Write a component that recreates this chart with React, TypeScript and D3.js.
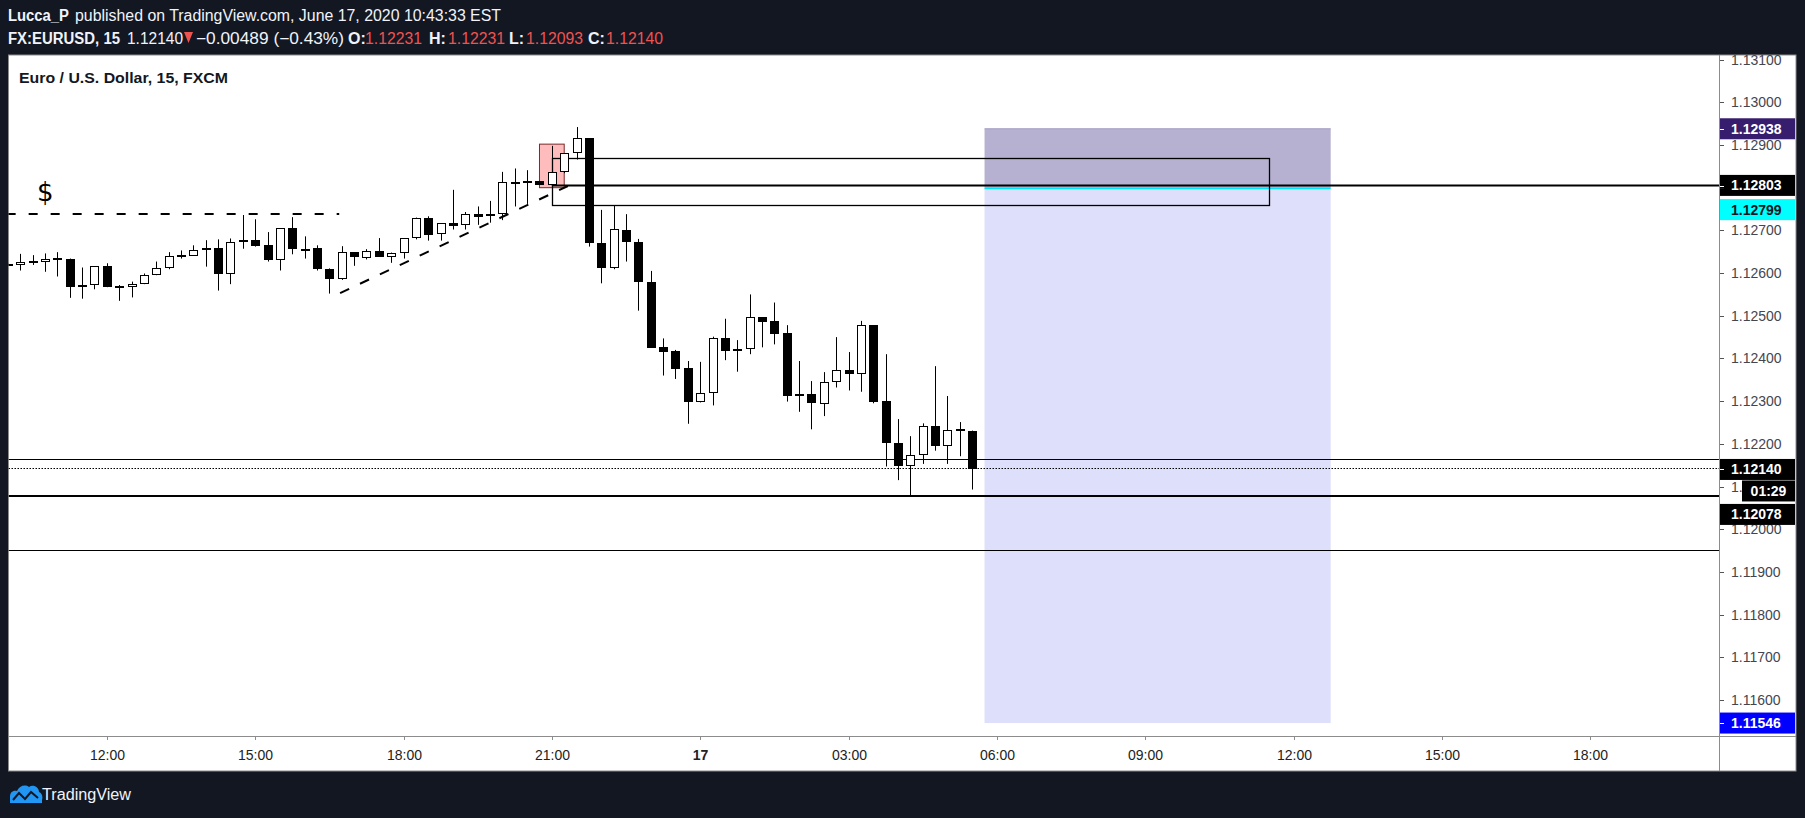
import React from 'react';
import * as d3 from 'd3';

// 15-minute EURUSD bars, bar index 0 = Jun 16 12:00
const firstBar = -8;
const opens = [
  1.12620, 1.12620, 1.12627, 1.12625, 1.12634, 1.12634, 1.12567, 1.12571, 1.12616, 1.12568,
  1.12567, 1.12574, 1.12595, 1.12613, 1.12642, 1.12641, 1.12653, 1.12658, 1.12597, 1.12672,
  1.12677, 1.12665, 1.12630, 1.12705, 1.12657, 1.12658, 1.12609, 1.12585, 1.12649, 1.12636,
  1.12651, 1.12638, 1.12648, 1.12681, 1.12728, 1.12691, 1.12717, 1.12712, 1.12738, 1.12733,
  1.12738, 1.12813, 1.12810, 1.12816, 1.12807, 1.12836, 1.12881, 1.12916, 1.12670, 1.12613,
  1.12702, 1.12673, 1.12579, 1.12427, 1.12418, 1.12378, 1.12297, 1.12318, 1.12448, 1.12422,
  1.12421, 1.12497, 1.12488, 1.12460, 1.12317, 1.12317, 1.12294, 1.12344, 1.12372, 1.12363,
  1.12478, 1.12300, 1.12203, 1.12149, 1.12175, 1.12241, 1.12196, 1.12235, 1.12231,
];
const highs = [
  1.12622, 1.12645, 1.12642, 1.12646, 1.12649, 1.12634, 1.12613, 1.12616, 1.12623, 1.12572,
  1.12580, 1.12599, 1.12627, 1.12649, 1.12653, 1.12665, 1.12677, 1.12679, 1.12681, 1.12736,
  1.12726, 1.12696, 1.12705, 1.12731, 1.12686, 1.12665, 1.12611, 1.12663, 1.12649, 1.12656,
  1.12682, 1.12648, 1.12681, 1.12730, 1.12733, 1.12717, 1.12795, 1.12743, 1.12756, 1.12769,
  1.12837, 1.12845, 1.12841, 1.12816, 1.12898, 1.12881, 1.12942, 1.12916, 1.12748, 1.12759,
  1.12738, 1.12680, 1.12605, 1.12447, 1.12420, 1.12394, 1.12392, 1.12451, 1.12493, 1.12443,
  1.12550, 1.12497, 1.12531, 1.12478, 1.12394, 1.12347, 1.12368, 1.12450, 1.12415, 1.12488,
  1.12478, 1.12410, 1.12258, 1.12218, 1.12248, 1.12382, 1.12312, 1.12251, 1.12231,
];
const lows = [
  1.12618, 1.12606, 1.12619, 1.12603, 1.12592, 1.12542, 1.12540, 1.12562, 1.12567, 1.12535,
  1.12543, 1.12574, 1.12595, 1.12609, 1.12634, 1.12641, 1.12615, 1.12559, 1.12574, 1.12657,
  1.12662, 1.12627, 1.12606, 1.12644, 1.12634, 1.12606, 1.12552, 1.12584, 1.12617, 1.12632,
  1.12638, 1.12624, 1.12634, 1.12679, 1.12676, 1.12676, 1.12702, 1.12702, 1.12713, 1.12718,
  1.12724, 1.12756, 1.12762, 1.12807, 1.12804, 1.12834, 1.12866, 1.12662, 1.12576, 1.12609,
  1.12627, 1.12512, 1.12425, 1.12360, 1.12352, 1.12247, 1.12297, 1.12290, 1.12396, 1.12369,
  1.12410, 1.12426, 1.12433, 1.12299, 1.12275, 1.12234, 1.12265, 1.12332, 1.12325, 1.12322,
  1.12295, 1.12147, 1.12115, 1.12076, 1.12153, 1.12184, 1.12153, 1.12171, 1.12093,
];
const closes = [
  1.12621, 1.12626, 1.12628, 1.12634, 1.12635, 1.12567, 1.12571, 1.12616, 1.12567, 1.12569,
  1.12574, 1.12595, 1.12613, 1.12639, 1.12638, 1.12653, 1.12659, 1.12597, 1.12672, 1.12677,
  1.12664, 1.12630, 1.12705, 1.12656, 1.12656, 1.12609, 1.12585, 1.12649, 1.12637, 1.12651,
  1.12638, 1.12648, 1.12681, 1.12728, 1.12690, 1.12717, 1.12711, 1.12738, 1.12732, 1.12738,
  1.12813, 1.12810, 1.12815, 1.12807, 1.12836, 1.12881, 1.12916, 1.12670, 1.12613, 1.12703,
  1.12672, 1.12578, 1.12425, 1.12416, 1.12376, 1.12297, 1.12318, 1.12448, 1.12418, 1.12418,
  1.12497, 1.12486, 1.12458, 1.12313, 1.12313, 1.12295, 1.12344, 1.12372, 1.12363, 1.12478,
  1.12299, 1.12203, 1.12149, 1.12175, 1.12241, 1.12196, 1.12232, 1.12232, 1.12140,
];

const timeLabels = ['12:00', '15:00', '18:00', '21:00', '17', '03:00', '06:00', '09:00', '12:00', '15:00', '18:00'];
const priceTicks = d3.range(0, 16).map(k => 1.116 + k * 0.001);

// drawings on the chart
const levelPrices = [1.12164, 1.12078, 1.11951];
const levelWidths = [1, 2, 1];
const lastPrice = 1.12140;
const rayPrice = 1.12803;
const rayStartBar = 36;
const zoneBars = [36, 94];
const zonePrices = [1.12869, 1.12759];
const pinkBars = [35, 37];
const pinkPrices = [1.12902, 1.12800];
const dollarLevel = 1.12738;
const dollarBars = [-8.1, 18.8];
const trendBars = [18.87, 37.3];
const trendPrices = [1.12553, 1.12804];
const positionBars = [71, 99];
const stopPrice = 1.12938;
const entryPrice = 1.12799;
const targetPrice = 1.11546;

const axisLabels = [
  { text: '1.12938', price: 1.12938, shift: 0, bg: '#371d6d', fg: '#ffffff' },
  { text: '1.12803', price: 1.12803, shift: -1, bg: '#000000', fg: '#ffffff' },
  { text: '1.12799', price: 1.12799, shift: 21.5, bg: '#00ffff', fg: '#131722' },
  { text: '1.12140', price: 1.12140, shift: 0, bg: '#000000', fg: '#ffffff' },
  { text: '1.12078', price: 1.12078, shift: 18.5, bg: '#000000', fg: '#ffffff' },
  { text: '1.11546', price: 1.11546, shift: 0, bg: '#0000ff', fg: '#ffffff' },
];

const FONT = '"Liberation Sans", Arial, sans-serif';

export default function App() {
  const W = 1805, H = 818;
  const left = 8.5, top = 55, right = 1719, bottom = 736, panelBottom = 771, panelRight = 1796;

  const x = d3.scaleLinear().domain([0, 120]).range([106.8, 1590.3]);
  const y = d3.scaleLinear().domain([1.116, 1.13]).range([700, 102.3]);

  const bars = opens.map((o, k) => ({ i: firstBar + k, o, h: highs[k], l: lows[k], c: closes[k] }));
  const px = (v: number) => Math.round(v) + 0.5;

  const red = '#ef5350';
  const hdr = '#f0f3fa';

  return (
    <svg width={W} height={H} style={{ display: 'block' }} fontFamily={FONT}>
      <style>{`body{margin:0;background:#131722}`}</style>
      <defs>
        <clipPath id="plot"><rect x={left} y={top} width={right - left} height={bottom - top} /></clipPath>
        <clipPath id="paxis"><rect x={right} y={top} width={panelRight - right} height={bottom - top} /></clipPath>
      </defs>
      <rect x={0} y={0} width={W} height={H} fill="#131722" />

      {/* header */}
      <text x={8} y={21} fontSize={16} fill={hdr} fontWeight="bold" textLength={61} lengthAdjust="spacingAndGlyphs">Lucca_P</text>
      <text x={75} y={21} fontSize={16} fill={hdr} textLength={426} lengthAdjust="spacingAndGlyphs">
        published on TradingView.com, June 17, 2020 10:43:33 EST
      </text>
      <text x={8} y={44} fontSize={16} fill={hdr} fontWeight="bold" textLength={112} lengthAdjust="spacingAndGlyphs">FX:EURUSD, 15</text>
      <text x={127} y={44} fontSize={16} fill={hdr} textLength={56} lengthAdjust="spacingAndGlyphs">1.12140</text>
      <path d="M184,32 L193,32 L188.5,43 Z" fill={red} />
      <text x={196} y={44} fontSize={16} fill={hdr} textLength={148} lengthAdjust="spacingAndGlyphs">−0.00489 (−0.43%)</text>
      {[
        ['O:', 348, '1.12231', 365],
        ['H:', 429, '1.12231', 448],
        ['L:', 509, '1.12093', 526],
        ['C:', 588, '1.12140', 606],
      ].map(([k, kx, v, vx]) => (
        <g key={k as string}>
          <text x={kx as number} y={44} fontSize={16} fontWeight="bold" fill={hdr}>{k}</text>
          <text x={vx as number} y={44} fontSize={16} fill={red} textLength={57} lengthAdjust="spacingAndGlyphs">{v}</text>
        </g>
      ))}

      {/* chart panel */}
      <rect x={left} y={top} width={panelRight - left} height={panelBottom - top} fill="#ffffff" stroke="#8c8c8c" strokeWidth={1} />

      <g clipPath="url(#plot)">
        {/* short position tool */}
        <rect x={x(positionBars[0])} y={y(stopPrice)} width={x(positionBars[1]) - x(positionBars[0])}
          height={y(entryPrice) - y(stopPrice)} fill="#b7b1d1" />
        <rect x={x(positionBars[0])} y={y(entryPrice)} width={x(positionBars[1]) - x(positionBars[0])}
          height={y(targetPrice) - y(entryPrice)} fill="#dedffa" />
        <line x1={x(positionBars[0])} x2={x(positionBars[1])} y1={y(stopPrice)} y2={y(stopPrice)} stroke="#a39cc4" />
        <line x1={x(positionBars[0])} x2={x(positionBars[1])} y1={y(entryPrice) + 0.5} y2={y(entryPrice) + 0.5} stroke="#00e5ff" strokeWidth={1.5} />

        {/* pink box */}
        <rect x={x(pinkBars[0])} y={y(pinkPrices[0])} width={x(pinkBars[1]) - x(pinkBars[0])}
          height={y(pinkPrices[1]) - y(pinkPrices[0])} fill="#ffbcbc" stroke="#7a2a2a" strokeWidth={1} />

        {/* supply zone rectangle */}
        <rect x={px(x(zoneBars[0]))} y={px(y(zonePrices[0]))} width={Math.round(x(zoneBars[1]) - x(zoneBars[0]))}
          height={Math.round(y(zonePrices[1]) - y(zonePrices[0]))} fill="none" stroke="#000" strokeWidth={1.3} />

        {/* horizontal ray */}
        <line x1={x(rayStartBar)} x2={right} y1={y(rayPrice) - 1} y2={y(rayPrice) - 1} stroke="#000" strokeWidth={2} />

        {/* levels */}
        {levelPrices.map((p, k) => (
          <line key={p} x1={left} x2={right} y1={levelWidths[k] === 1 ? px(y(p)) : Math.round(y(p))}
            y2={levelWidths[k] === 1 ? px(y(p)) : Math.round(y(p))} stroke="#000" strokeWidth={levelWidths[k]} />
        ))}
        <line x1={left} x2={right} y1={px(y(lastPrice)) - 1} y2={px(y(lastPrice)) - 1} stroke="#000" strokeDasharray="1.5,1.5" />

        {/* dashed lines */}
        <line x1={x(dollarBars[0])} x2={x(dollarBars[1])} y1={Math.round(y(dollarLevel))} y2={Math.round(y(dollarLevel))}
          stroke="#000" strokeWidth={2} strokeDasharray="9,13" />
        <line x1={x(trendBars[0])} y1={y(trendPrices[0])} x2={x(trendBars[1])} y2={y(trendPrices[1])}
          stroke="#000" strokeWidth={2} strokeDasharray="10,12" />
        <text x={37} y={201} fontSize={26} fontFamily='"DejaVu Sans", sans-serif' fill="#000">$</text>

        {/* candles */}
        {bars.map(b => {
          const cx = px(x(b.i));
          const up = b.c >= b.o;
          const t = Math.round(y(Math.max(b.o, b.c)));
          const bt = Math.round(y(Math.min(b.o, b.c)));
          const hgt = Math.max(bt - t, 1);
          return (
            <g key={b.i}>
              <line x1={cx} x2={cx} y1={y(b.h)} y2={y(b.l)} stroke="#000" strokeWidth={1} />
              {up
                ? <rect x={cx - 4} y={t + 0.5} width={8} height={Math.max(hgt - 1, 1)} fill="#fff" stroke="#000" strokeWidth={1} />
                : <rect x={cx - 4.5} y={t} width={9} height={Math.max(hgt, 2)} fill="#000" />}
            </g>
          );
        })}
      </g>

      {/* title */}
      <text x={19} y={83} fontSize={15} fontWeight="bold" fill="#131722" textLength={209} lengthAdjust="spacingAndGlyphs">
        Euro / U.S. Dollar, 15, FXCM
      </text>

      {/* price axis */}
      <g clipPath="url(#paxis)">
        {priceTicks.map(p => (
          <g key={p}>
            <line x1={right} x2={right + 5} y1={px(y(p))} y2={px(y(p))} stroke="#555" />
            <text x={1731} y={y(p) + 5} fontSize={14} fill="#434651">{p.toFixed(5)}</text>
          </g>
        ))}
        {axisLabels.map(l => {
          const cy = y(l.price) + l.shift;
          return (
            <g key={l.text}>
              <rect x={right} y={cy - 10.5} width={76} height={21} fill={l.bg} />
              <line x1={right} x2={right + 5} y1={px(y(l.price))} y2={px(y(l.price))} stroke={l.fg} />
              <text x={1731} y={cy + 5} fontSize={14} fontWeight="bold" fill={l.fg}>{l.text}</text>
            </g>
          );
        })}
        <rect x={1742} y={y(lastPrice) + 11} width={53} height={21} fill="#000" />
        <text x={1768.5} y={y(lastPrice) + 26.5} fontSize={14} fontWeight="bold" fill="#fff" textAnchor="middle">01:29</text>
      </g>
      <line x1={px(right)} x2={px(right)} y1={top} y2={panelBottom} stroke="#8c8c8c" />

      {/* time axis */}
      <line x1={left} x2={panelRight} y1={px(bottom)} y2={px(bottom)} stroke="#8c8c8c" />
      {timeLabels.map((t, k) => {
        const tx = px(x(k * 12));
        return (
          <g key={k}>
            <line x1={tx} x2={tx} y1={bottom} y2={bottom + 4} stroke="#8c8c8c" />
            <text x={tx} y={760} fontSize={14} textAnchor="middle" fill="#222"
              fontWeight={t === '17' ? 'bold' : 'normal'}>{t}</text>
          </g>
        );
      })}

      {/* footer logo */}
      <path d="M10,803 L10,797 C10,792 13,790 17,791 C19,786 25,784 29,787 C33,784 39,787 39,792 C42,793 43,797 42,800 L42,803 Z" fill="#2196f3" />
      <path d="M13,800 L19,793 L25,799 L31,792 L38,798" fill="none" stroke="#131722" strokeWidth={2} />
      <text x={42} y={800} fontSize={16} fill={hdr} textLength={89} lengthAdjust="spacingAndGlyphs">TradingView</text>
    </svg>
  );
}
